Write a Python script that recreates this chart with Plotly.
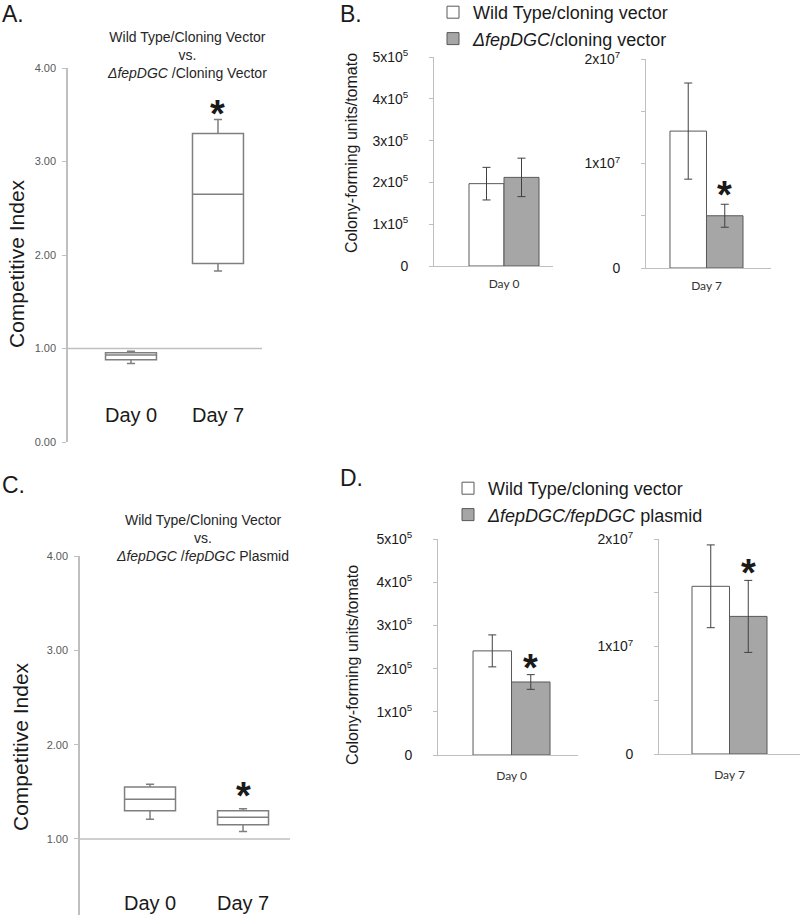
import plotly.graph_objects as go

W, H = 800, 918

# ---- data -------------------------------------------------------------
days = ["Day 0", "Day 7"]

# panel A: competitive index, WT/vector vs dfepDGC/vector
a_low = [0.84, 1.83]
a_q1 = [0.88, 1.91]
a_median = [0.93, 2.65]
a_q3 = [0.955, 3.30]
a_high = [0.97, 3.45]

# panel C: competitive index, WT/vector vs dfepDGC/fepDGC plasmid
c_low = [1.21, 1.08]
c_q1 = [1.30, 1.15]
c_median = [1.42, 1.23]
c_q3 = [1.55, 1.30]
c_high = [1.58, 1.32]

# panel B: CFU/tomato
b_wt = [1.97e5, 1.31e7]
b_wt_err = [0.39e5, 0.46e7]
b_mut = [2.12e5, 0.50e7]
b_mut_err = [0.46e5, 0.11e7]

# panel D: CFU/tomato
d_wt = [2.41e5, 1.56e7]
d_wt_err = [0.37e5, 0.385e7]
d_comp = [1.69e5, 1.28e7]
d_comp_err = [0.17e5, 0.335e7]

ci_ticks = [0, 1, 2, 3, 4]
cfu5_ticks = [0, 1e5, 2e5, 3e5, 4e5, 5e5]
cfu5_text = ["0"] + [f"{i}x10<sup>5</sup>" for i in range(1, 6)]
cfu7_ticks = [0, 0.5e7, 1e7, 1.5e7, 2e7]
cfu7_text = ["0", "", "1x10<sup>7</sup>", "", "2x10<sup>7</sup>"]

FONT = "Arial, Liberation Sans, sans-serif"
DARK = "#1a1a1a"
AXIS = "#bfbfbf"
EDGE = "#595959"
GRAY_FILL = "#a6a6a6"


def px_x(p):
    return p / W


def px_y(p):
    return 1 - p / H


fig = go.Figure()

# ---- box panels -----------------------------------------------------------
def add_box(xa, ya, low, q1, med, q3, high, width):
    fig.add_trace(
        go.Box(
            x=[0, 1],
            lowerfence=low,
            q1=q1,
            median=med,
            q3=q3,
            upperfence=high,
            width=width,
            whiskerwidth=0.16,
            fillcolor="white",
            line={"color": "#7f7f7f", "width": 1.5},
            boxpoints=False,
            showlegend=False,
            hoverinfo="skip",
            xaxis=xa,
            yaxis=ya,
        )
    )


add_box("x", "y", a_low, a_q1, a_median, a_q3, a_high, 0.586)
add_box("x4", "y4", c_low, c_q1, c_median, c_q3, c_high, 0.548)

# ---- bar panels -------------------------------------------------------------
def add_bars(xa, ya, idx, wt, wt_err, mut, mut_err, names, legend, show):
    fig.add_trace(
        go.Bar(
            x=[days[idx]],
            y=[wt[idx]],
            error_y={"type": "data", "array": [wt_err[idx]], "color": "#404040",
                     "thickness": 1, "width": 4},
            marker={"color": "white", "line": {"color": EDGE, "width": 1}},
            name=names[0],
            legend=legend,
            showlegend=show,
            xaxis=xa,
            yaxis=ya,
        )
    )
    fig.add_trace(
        go.Bar(
            x=[days[idx]],
            y=[mut[idx]],
            error_y={"type": "data", "array": [mut_err[idx]], "color": "#404040",
                     "thickness": 1, "width": 4},
            marker={"color": GRAY_FILL, "line": {"color": EDGE, "width": 1}},
            name=names[1],
            legend=legend,
            showlegend=show,
            xaxis=xa,
            yaxis=ya,
        )
    )


b_names = ["Wild Type/cloning vector", "<i>ΔfepDGC</i>/cloning vector"]
d_names = ["Wild Type/cloning vector", "<i>ΔfepDGC/fepDGC</i> plasmid"]
add_bars("x2", "y2", 0, b_wt, b_wt_err, b_mut, b_mut_err, b_names, "legend", True)
add_bars("x3", "y3", 1, b_wt, b_wt_err, b_mut, b_mut_err, b_names, "legend", False)
add_bars("x5", "y5", 0, d_wt, d_wt_err, d_comp, d_comp_err, d_names, "legend2", True)
add_bars("x6", "y6", 1, d_wt, d_wt_err, d_comp, d_comp_err, d_names, "legend2", False)

# ---- axes -----------------------------------------------------------------
ci_y = dict(
    showline=True, linecolor=AXIS, linewidth=1.5, ticks="outside", ticklen=4,
    tickcolor=AXIS, showgrid=False, zeroline=False, tickvals=ci_ticks,
    tickformat=".2f", tickfont={"size": 11, "color": "#595959", "family": FONT},
    ticklabelstandoff=4, automargin=False,
)
box_x = dict(visible=False, showgrid=False, zeroline=False, automargin=False)

bar_y = dict(
    showline=True, linecolor=AXIS, linewidth=1, ticks="outside", ticklen=4,
    tickcolor=AXIS, showgrid=False, zeroline=False,
    tickfont={"size": 14, "color": DARK, "family": FONT}, ticklabelstandoff=18,
    automargin=False,
)
bar_x = dict(
    showline=True, linecolor=AXIS, linewidth=1, ticks="", showgrid=False,
    zeroline=False, automargin=False, ticklabelstandoff=7,
    tickfont={"size": 12, "color": "#333333", "family": "Lato, Open Sans, sans-serif"},
    type="category",
)

fig.update_layout(
    xaxis=dict(box_x, domain=[px_x(68), px_x(262)], range=[-0.724, 1.506], anchor="y"),
    yaxis=dict(ci_y, domain=[px_y(442), px_y(68)], range=[0, 4], anchor="x"),
    xaxis4=dict(box_x, domain=[px_x(80), px_x(290)], range=[-0.753, 1.505], anchor="y4"),
    yaxis4=dict(ci_y, domain=[px_y(915), px_y(556)], range=[0.194, 4], anchor="x4"),
    xaxis2=dict(bar_x, domain=[px_x(434), px_x(553)], range=[-0.6, 0.42], anchor="y2"),
    yaxis2=dict(bar_y, domain=[px_y(266), px_y(57)], range=[0, 5e5], anchor="x2",
                tickvals=cfu5_ticks, ticktext=cfu5_text),
    xaxis3=dict(bar_x, domain=[px_x(646), px_x(771)], range=[-0.497, 0.53], anchor="y3"),
    yaxis3=dict(bar_y, domain=[px_y(268), px_y(59)], range=[0, 2e7], anchor="x3",
                tickvals=cfu7_ticks, ticktext=cfu7_text),
    xaxis5=dict(bar_x, domain=[px_x(438), px_x(578)], range=[-0.573, 0.518], anchor="y5",
                ticklabelstandoff=10),
    yaxis5=dict(bar_y, domain=[px_y(755), px_y(539)], range=[0, 5e5], anchor="x5",
                tickvals=cfu5_ticks, ticktext=cfu5_text),
    xaxis6=dict(bar_x, domain=[px_x(659), px_x(800)], range=[-0.564, 0.564], anchor="y6",
                ticklabelstandoff=10),
    yaxis6=dict(bar_y, domain=[px_y(754), px_y(539)], range=[0, 2e7], anchor="x6",
                tickvals=cfu7_ticks, ticktext=cfu7_text),
)

# reference line at CI = 1
for xa, ya in (("x", "y"), ("x4", "y4")):
    fig.add_shape(type="line", xref=f"{xa} domain", x0=0, x1=1, yref=ya, y0=1, y1=1,
                  line={"color": AXIS, "width": 1.5})

# ---- text -----------------------------------------------------------------
ann = []


def text(x, y, s, size, **kw):
    d = dict(x=x, y=y, text=s, showarrow=False, xanchor="center", yanchor="middle",
             font={"size": size, "color": kw.pop("color", DARK), "family": FONT})
    d.update(kw)
    ann.append(d)


# panel letters
for lab, x, y in (("A.", 0, 14), ("B.", 338, 14), ("C.", 0, 485), ("D.", 338, 478)):
    text(px_x(x), px_y(y), lab, 23, xref="paper", yref="paper", xanchor="left")

# panel titles
text(px_x(187), px_y(55),
     "Wild Type/Cloning Vector<br>vs.<br><i>ΔfepDGC</i> /Cloning Vector", 14,
     xref="paper", yref="paper", color="#262626")
text(px_x(203), px_y(538),
     "Wild Type/Cloning Vector<br>vs.<br><i>ΔfepDGC</i> /<i>fepDGC</i> Plasmid", 14,
     xref="paper", yref="paper", color="#262626")

# y titles
text(px_x(16), px_y(264), "Competitive Index", 21, xref="paper", yref="paper", textangle=-90)
text(px_x(20), px_y(747), "Competitive Index", 21, xref="paper", yref="paper", textangle=-90)
text(px_x(352), px_y(153), "Colony-forming units/tomato", 16, xref="paper", yref="paper", textangle=-90)
text(px_x(352), px_y(665), "Colony-forming units/tomato", 16, xref="paper", yref="paper", textangle=-90)

# day labels on box panels
for i, d in enumerate(days):
    text(i, px_y(415), d, 20, xref="x", yref="paper")
    text(i, px_y(903), d, 20, xref="x4", yref="paper")

# significance stars
STAR = 38
star = "<b>*</b>"
text(1, a_high[1], star, STAR, xref="x", yref="y", yanchor="bottom", yshift=-18)
text(1, c_high[1], star, STAR, xref="x4", yref="y4", yanchor="bottom", yshift=-10)
text(0.15, b_mut[1] + b_mut_err[1], star, STAR, xref="x3", yref="y3", yanchor="bottom", yshift=-14)
text(0.15, d_comp[0] + d_comp_err[0], star, STAR, xref="x5", yref="y5", yanchor="bottom", yshift=-16)
text(0.15, d_comp[1] + d_comp_err[1], star, STAR, xref="x6", yref="y6", yanchor="bottom", yshift=-16)

legend_style = dict(
    xanchor="left", yanchor="top", bgcolor="rgba(0,0,0,0)",
    font={"size": 18, "color": DARK, "family": FONT}, tracegroupgap=0,
    traceorder="normal",
)

fig.update_layout(
    template="none",
    annotations=ann,
    width=W,
    height=H,
    margin={"l": 0, "r": 0, "t": 0, "b": 0, "autoexpand": False},
    paper_bgcolor="white",
    plot_bgcolor="white",
    barmode="group",
    bargap=0.4,
    bargroupgap=0,
    legend=dict(legend_style, x=px_x(433), y=px_y(-6)),
    legend2=dict(legend_style, x=px_x(448), y=px_y(470)),
)

fig.write_html(
    "out.html",
    config={"displayModeBar": False},
    post_script="document.body.style.margin='0';document.body.style.overflow='hidden';",
)
